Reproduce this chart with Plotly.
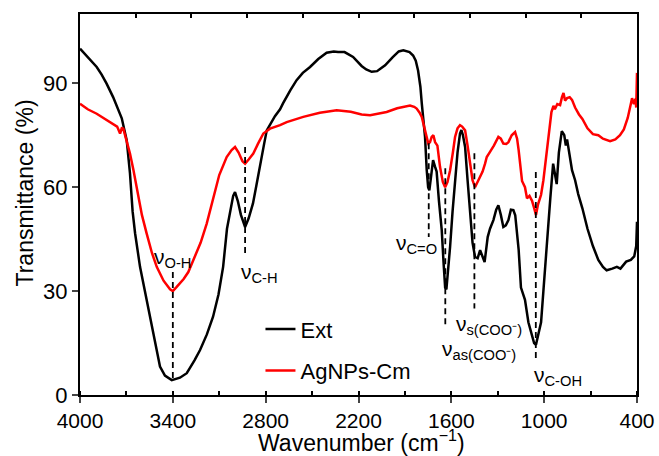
import plotly.graph_objects as go

# ---- data ----
ext_wn = [4000, 3950, 3892, 3860, 3828, 3786, 3750, 3730, 3698, 3677, 3660, 3644, 3612, 3569, 3528,
          3483, 3451, 3407, 3354, 3310, 3260, 3224, 3180, 3140, 3105, 3075, 3050, 3030, 3010, 2998,
          2980, 2960, 2933, 2910, 2882, 2860, 2836, 2810, 2793, 2772, 2740, 2707, 2688, 2640, 2600,
          2560, 2513, 2460, 2406, 2360, 2332, 2290, 2235, 2180, 2150, 2115, 2080, 2050, 2028, 1980,
          1940, 1910, 1870, 1847, 1830, 1815, 1800, 1791, 1780, 1770, 1759, 1750, 1742, 1730, 1718,
          1706, 1695, 1680, 1662, 1650, 1640, 1632, 1620, 1608, 1592, 1576, 1560, 1544, 1535, 1525,
          1511, 1495, 1479, 1463, 1447, 1430, 1414, 1400, 1385, 1375, 1365, 1350, 1328, 1310, 1296,
          1280, 1264, 1248, 1231, 1215, 1199, 1187, 1177, 1165, 1150, 1135, 1124, 1102, 1085, 1065,
          1053, 1040, 1020, 1005, 990, 975, 960, 942, 930, 919, 905, 886, 870, 860, 852, 840, 820,
          800, 780, 753, 720, 685, 650, 620, 596, 560, 530, 507, 470, 440, 418, 405, 400]
ext_t = [100, 97.5, 94.7, 92.5, 89.9, 86, 82, 79.9, 73.5, 64, 53, 46.7, 37, 27.4, 17.9,
         8.2, 5.6, 4.3, 5.0, 6.3, 10, 13, 17.5, 22.6, 29, 37, 48, 52.5, 57.5, 58.6,
         56, 52, 48.5, 51, 55.3, 60.5, 66.8, 72.5, 76.4, 78, 80.5, 82.5, 84.2, 88, 90.9,
         93, 94.7, 97, 98.8, 99.2, 99, 99, 97.6, 95, 94, 93.3, 93.5, 94.5, 95.2, 97.5,
         99.2, 99.5, 99, 98, 96.5, 93.7, 89, 84.2, 79, 74.5, 64.9, 60, 59.1, 63, 67.8,
         66, 64.5, 56, 47.6, 38, 31, 30.5, 36, 42.8, 53, 62, 70, 75.5, 76.5, 75,
         71.6, 62, 52.5, 44, 39.9, 39.5, 41.8, 40, 38.4, 42, 45.6, 48, 50.5, 53.5, 54.8,
         52, 48.5, 49, 50.5, 53.5, 53.4, 51.9, 47.6, 42, 31, 29, 27.5, 21, 18, 15,
         14.5, 17, 21, 30, 40, 47, 57, 66.8, 63, 60.9, 70, 76.2, 75, 72, 73.8, 70, 64.9,
         62, 58, 53.9, 48, 43, 39, 37, 36, 36.5, 37, 36.5, 38.5, 39, 40, 43, 50]

ag_wn = [4000, 3950, 3892, 3840, 3785, 3760, 3741, 3730, 3720, 3700, 3677, 3655, 3634, 3600, 3569,
         3535, 3504, 3460, 3418, 3400, 3375, 3330, 3300, 3268, 3220, 3181, 3138, 3100, 3052, 3020,
         2998, 2975, 2950, 2933, 2910, 2880, 2850, 2815, 2772, 2707, 2664, 2600, 2557, 2450, 2341,
         2250, 2180, 2125, 2070, 2018, 1950, 1900, 1867, 1840, 1824, 1805, 1791, 1770, 1755, 1749,
         1738, 1727, 1716, 1705, 1690, 1673, 1655, 1640, 1625, 1608, 1590, 1576, 1560, 1544, 1530,
         1511, 1495, 1479, 1463, 1447, 1430, 1414, 1398, 1382, 1371, 1350, 1325, 1296, 1280, 1264,
         1245, 1231, 1210, 1188, 1175, 1165, 1156, 1143, 1124, 1111, 1095, 1078, 1065, 1053, 1040,
         1020, 1005, 987, 970, 953, 940, 931, 915, 897, 885, 875, 865, 852, 835, 820, 800, 775,
         753, 720, 685, 650, 620, 574, 540, 510, 485, 460, 440, 432, 420, 410, 405, 402, 400]
ag_t = [84.1, 82.5, 81.2, 79.8, 78.3, 77.5, 75.5, 77, 76.9, 73.5, 69.7, 65, 60, 52, 46.6,
        41, 37, 33, 30.5, 30, 31.2, 33.5, 35.5, 38.9, 44, 49.5, 57, 63.5, 68.7, 70.7,
        71.6, 70, 67.5, 66.8, 68, 69.7, 72.5, 75.5, 76.9, 77.9, 78.8, 79.8, 80.3, 81.5, 82.2,
        81.8, 81, 80.8, 81.2, 81.7, 82.8, 83.3, 83.6, 83.2, 82.7, 81.5, 80.3, 76.4, 73, 72.6,
        73, 74.5, 75, 73, 72, 65.8, 61.5, 60, 61.5, 64.9, 70, 74.5, 77, 77.9, 77.5,
        76.4, 72, 66.8, 62, 60, 61.5, 63, 64.5, 66.8, 68.7, 70.2, 72, 74.5, 74, 72.6,
        72.5, 73, 75, 75.9, 74, 70.7, 67, 61.8, 60, 56.8, 57.5, 56, 54, 52, 55,
        57.8, 62, 68.8, 76, 81.7, 83.5, 82.5, 84, 83.7, 86, 87.2, 85, 85.7, 86, 85.2, 83, 81,
        79.7, 77, 75.3, 75, 74, 73.3, 73.8, 75, 76.7, 80, 84, 85.7, 84, 85.5, 83, 88, 93]

# band assignments: label, wavenumber of the marker line, line top / bottom (%)
band_labels = ["ν<sub>O-H</sub>", "ν<sub>C-H</sub>", "ν<sub>C=O</sub>",
               "ν<sub>as(COO⁻)</sub>", "ν<sub>s(COO⁻)</sub>", "ν<sub>C-OH</sub>"]
band_wn = [3400, 2933, 1746, 1639, 1451, 1054]
band_top = [35.5, 71.6, 72.7, 65.5, 69.8, 64.4]
band_bottom = [4.3, 40, 45.6, 19.6, 25, 9.6]
label_wn = [3402, 2843, 1828, 1424, 1359, 913]
label_t = [39.5, 35.3, 43.5, 13, 20.3, 5.5]

x_ticks = [4000, 3400, 2800, 2200, 1600, 1000, 400]
y_ticks = [0, 30, 60, 90]
x_title = "Wavenumber (cm<sup>−1</sup>)"
y_title = "Transmittance (%)"

FONT = "Liberation Sans, Arial, sans-serif"

fig = go.Figure()
fig.add_trace(go.Scatter(x=ext_wn, y=ext_t, mode="lines", name="Ext",
                         line=dict(color="black", width=2.5), legendgroup="a"))
fig.add_trace(go.Scatter(x=ag_wn, y=ag_t, mode="lines", name="AgNPs-Cm",
                         line=dict(color="#ff0000", width=2.5), legendgroup="b"))

dx, dy = [], []
for w, t0, t1 in zip(band_wn, band_top, band_bottom):
    dx += [w, w, None]
    dy += [t0, t1, None]
fig.add_trace(go.Scatter(x=dx, y=dy, mode="lines", showlegend=False, hoverinfo="skip",
                         line=dict(color="black", width=1.8, dash="6px,4px")))
# carrier for the top axis
fig.add_trace(go.Scatter(x=[None], y=[None], xaxis="x2", showlegend=False, hoverinfo="skip"))

for lab, w, t in zip(band_labels, label_wn, label_t):
    fig.add_annotation(x=w, y=t, text=lab, showarrow=False, xanchor="center", yanchor="middle",
                       font=dict(family=FONT, size=21, color="black"))

# axis titles
fig.add_annotation(xref="paper", yref="paper", x=0.505, y=-0.080, text=x_title, showarrow=False,
                   xanchor="center", yanchor="top", borderpad=0,
                   font=dict(family=FONT, size=23, color="black"))
fig.add_annotation(xref="paper", yref="paper", x=-0.098, y=0.53, text=y_title, showarrow=False,
                   textangle=-90, xanchor="center", yanchor="middle",
                   font=dict(family=FONT, size=23, color="black"))

fig.update_layout(
    width=659, height=456,
    margin=dict(l=80, r=22, t=14, b=61),
    paper_bgcolor="white", plot_bgcolor="white",
    font=dict(family=FONT, size=21, color="black"),
    showlegend=True,
    legend=dict(x=0.324, y=0.228, xanchor="left", yanchor="top", traceorder="grouped",
                tracegroupgap=10, bgcolor="rgba(0,0,0,0)", font=dict(family=FONT, size=22)),
    xaxis=dict(range=[4000, 400], tickvals=x_ticks, ticks="outside", ticklen=6, tickwidth=2,
               showline=True, linewidth=2, linecolor="black", showgrid=False, zeroline=False,
               tickfont=dict(size=21), automargin=False,
               minor=dict(tick0=4000, dtick=300, ticks="inside", ticklen=4, tickwidth=1.5,
                          tickcolor="black", showgrid=False)),
    xaxis2=dict(range=[4000, 400], overlaying="x", side="top", anchor="y", tick0=4000, dtick=360,
                ticks="inside", ticklen=4, tickwidth=1.5, tickcolor="black", showticklabels=False,
                showline=True, linewidth=2, linecolor="black", showgrid=False, zeroline=False,
                automargin=False),
    yaxis=dict(range=[0, 110], tickvals=y_ticks, ticks="outside", ticklen=6, tickwidth=2,
               showline=True, linewidth=2, linecolor="black", mirror=True, showgrid=False,
               zeroline=False, tickfont=dict(size=22), automargin=False),
)

fig.write_html("out.html", config={"displayModeBar": False},
               post_script="document.body.style.margin='0px';document.body.style.overflow='hidden';")
